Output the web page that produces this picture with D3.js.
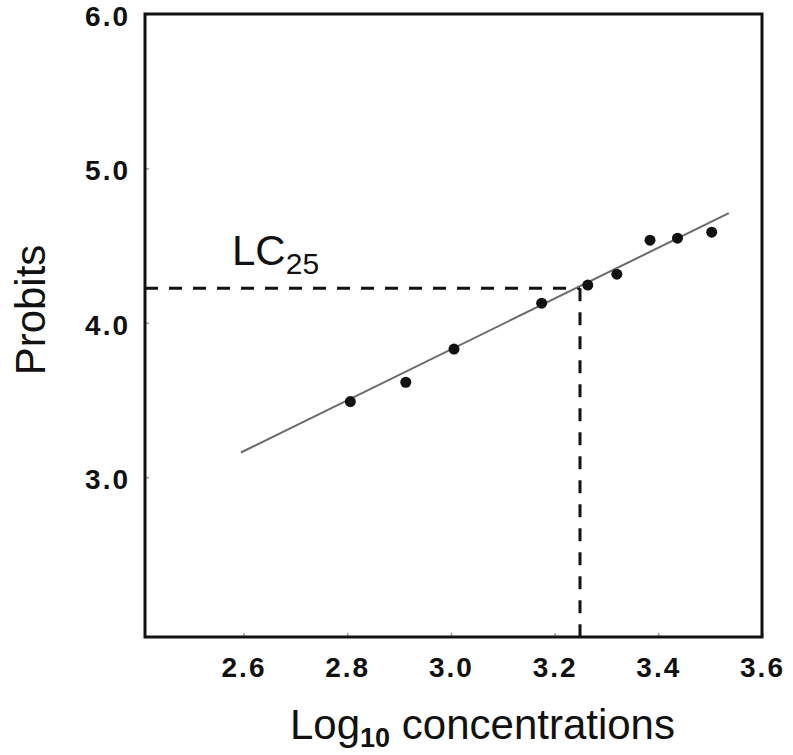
<!DOCTYPE html>
<html lang="en">
<head>
    <meta charset="UTF-8">
    <script src="https://d3js.org/d3.v7.min.js"></script>
    <title>Probit plot</title>
    <style>
        body { margin: 0; background: #fff; }
        text { font-family: "Liberation Sans", Arial, sans-serif; fill: #111; }
    </style>
</head>
<body>
    <script>

        // chart data
        var logConc = [2.806, 2.913, 3.006, 3.175, 3.264, 3.320, 3.384, 3.437, 3.503];
        var probits = [3.49, 3.615, 3.83, 4.127, 4.244, 4.315, 4.535, 4.548, 4.587];
        var fitX = [2.595, 3.536];
        var fitY = [3.16, 4.71];
        var lc25 = {x: 3.249, y: 4.224};
        var xTicks = [2.6, 2.8, 3.0, 3.2, 3.4, 3.6];
        var yTicks = [3.0, 4.0, 5.0, 6.0];

        var width = 793, height = 755;
        var margin = {top: 14, right: 31, bottom: 118, left: 145};

        var svg = d3.select("body")
        .append("svg")
        .attr("width", width)
        .attr("height", height);

        var xScale = d3.scaleLinear()
        .domain([2.41, 3.6])
        .range([margin.left, width - margin.right]);

        var yScale = d3.scaleLinear()
        .domain([1.965, 6.0])
        .range([height - margin.bottom, margin.top]);

        // axes with small inward ticks
        var xAxis = d3.axisBottom(xScale)
        .tickValues(xTicks)
        .tickFormat(d3.format(".1f"))
        .tickSizeInner(-4)
        .tickSizeOuter(0)
        .tickPadding(20);

        var yAxis = d3.axisLeft(yScale)
        .tickValues(yTicks)
        .tickFormat(d3.format(".1f"))
        .tickSizeInner(-4)
        .tickSizeOuter(0)
        .tickPadding(15);

        var gx = svg.append("g")
        .attr("transform", "translate(0," + (height - margin.bottom) + ")")
        .call(xAxis);

        var gy = svg.append("g")
        .attr("transform", "translate(" + margin.left + ",0)")
        .call(yAxis);

        [gx, gy].forEach(function(g) {
            g.select(".domain").remove();
            g.selectAll(".tick line").attr("stroke", "#999").attr("stroke-width", 1.5);
            g.selectAll(".tick text")
            .attr("font-size", 28)
            .attr("font-weight", "bold")
            .attr("letter-spacing", 2)
            .attr("fill", "#111");
        });
        gx.selectAll(".tick text").attr("dy", "0.71em");
        gy.selectAll(".tick text").attr("dy", "0.4em");

        // frame
        svg.append("rect")
        .attr("x", margin.left)
        .attr("y", margin.top)
        .attr("width", width - margin.right - margin.left)
        .attr("height", height - margin.bottom - margin.top)
        .attr("fill", "none")
        .attr("stroke", "#111")
        .attr("stroke-width", 3);

        // LC25 dashed guides
        svg.append("line")
        .attr("x1", xScale.range()[0])
        .attr("x2", xScale(lc25.x))
        .attr("y1", yScale(lc25.y))
        .attr("y2", yScale(lc25.y))
        .attr("stroke", "#111")
        .attr("stroke-width", 3)
        .attr("stroke-dasharray", "13,11");

        svg.append("line")
        .attr("x1", xScale(lc25.x))
        .attr("x2", xScale(lc25.x))
        .attr("y1", yScale(lc25.y))
        .attr("y2", yScale.range()[0])
        .attr("stroke", "#111")
        .attr("stroke-width", 3)
        .attr("stroke-dasharray", "13,11");

        // regression line
        var fit = d3.zip(fitX, fitY);
        svg.append("path")
        .datum(fit)
        .attr("fill", "none")
        .attr("stroke", "#6a6a6a")
        .attr("stroke-width", 2)
        .attr("d", d3.line()
            .x(function(d) {return xScale(d[0])})
            .y(function(d) {return yScale(d[1])}));

        // observed points
        svg.selectAll(".dot")
        .data(d3.zip(logConc, probits))
        .enter()
        .append("circle")
        .attr("class", "dot")
        .attr("cx", function(d) {return xScale(d[0])})
        .attr("cy", function(d) {return yScale(d[1])})
        .attr("r", 5.5)
        .attr("fill", "#111");

        // LC25 label
        var lab = svg.append("text")
        .attr("x", 232)
        .attr("y", 265)
        .attr("font-size", 42);
        lab.append("tspan").text("LC");
        lab.append("tspan").attr("font-size", 30).attr("dy", 9).text("25");

        // axis titles
        var xt = svg.append("text")
        .attr("x", (xScale.range()[0] + xScale.range()[1]) / 2 + 29)
        .attr("y", 739)
        .attr("text-anchor", "middle")
        .attr("font-size", 42);
        xt.append("tspan").text("Log");
        xt.append("tspan").attr("font-size", 27).attr("font-weight", "bold").attr("dy", 8).text("10");
        xt.append("tspan").attr("dy", -8).text(" concentrations");

        svg.append("text")
        .attr("transform", "translate(45,310) rotate(-90)")
        .attr("text-anchor", "middle")
        .attr("font-size", 42)
        .text("Probits");

    </script>
</body>
</html>
